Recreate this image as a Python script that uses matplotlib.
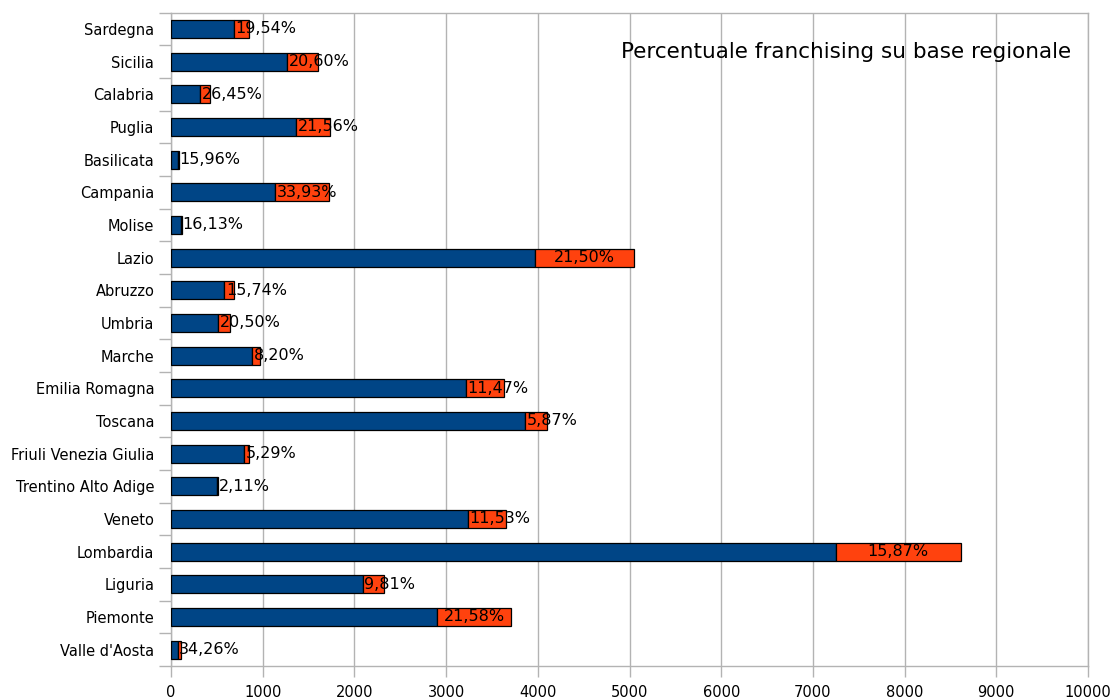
import numpy as np
import matplotlib
matplotlib.use("Agg")
import matplotlib.pyplot as plt

# regions from bottom to top, as in the chart
regioni = ["Valle d'Aosta", "Piemonte", "Liguria", "Lombardia", "Veneto",
           "Trentino Alto Adige", "Friuli Venezia Giulia", "Toscana",
           "Emilia Romagna", "Marche", "Umbria", "Abruzzo", "Lazio", "Molise",
           "Campania", "Basilicata", "Puglia", "Calabria", "Sicilia", "Sardegna"]
non_franchising = [72, 2905, 2092, 7248, 3234, 504, 800, 3860, 3214, 886,
                   513, 582, 3965, 105, 1137, 76, 1364, 316, 1270, 688]
franchising = [37, 800, 228, 1367, 421, 11, 45, 240, 416, 79,
               132, 108, 1085, 20, 583, 14, 375, 114, 330, 167]
percentuali = ["34,26%", "21,58%", "9,81%", "15,87%", "11,53%", "2,11%",
               "5,29%", "5,87%", "11,47%", "8,20%", "20,50%", "15,74%",
               "21,50%", "16,13%", "33,93%", "15,96%", "21,56%", "26,45%",
               "20,60%", "19,54%"]

blu = '#004586'
arancio = '#ff420e'
grigio = '#b3b3b3'

fig = plt.figure(figsize=(11.12, 6.99), dpi=100)
ax = fig.add_axes([0.1538, 0.0472, 0.8246, 0.9349])

y = np.arange(len(regioni))
h = 0.55
ax.barh(y, non_franchising, height=h, color=blu, edgecolor='black', linewidth=0.9, zorder=3)
ax.barh(y, franchising, left=non_franchising, height=h, color=arancio,
        edgecolor='black', linewidth=0.9, zorder=3)

ax.set_xlim(0, 10000)
ax.set_ylim(-0.5, len(regioni) - 0.5)
ax.set_xticks(np.arange(0, 10001, 1000))
ax.set_yticks(y)
ax.set_yticklabels(regioni)
ax.set_yticks(np.arange(-0.5, len(regioni)), minor=True)
ax.tick_params(axis='y', which='major', length=0, pad=12, labelsize=10.5)
ax.tick_params(axis='y', which='minor', length=9, color=grigio, width=1)
ax.tick_params(axis='x', length=8, color=grigio, width=1, labelsize=10.5, pad=6)
ax.grid(axis='x', color=grigio, linewidth=1, zorder=0)
for s in ax.spines.values():
    s.set_color(grigio)
    s.set_linewidth(1)

# percent labels: centred on the orange part if they fit, else start at it
fig.canvas.draw()
r = fig.canvas.get_renderer()
inv = ax.transData.inverted()
for yi, b, f, p in zip(y, non_franchising, franchising, percentuali):
    t = ax.text(b + f / 2, yi, p, ha='center', va='center', fontsize=11.5, zorder=4)
    bb = t.get_window_extent(renderer=r)
    x0 = inv.transform((bb.x0, 0))[0]
    if x0 < b:
        t.set_x(b + 15)
        t.set_ha('left')

ax.text(0.982, 0.94, "Percentuale franchising su base regionale",
        transform=ax.transAxes, ha='right', va='center', fontsize=15.5)

fig.savefig('out.png', dpi=100, facecolor='white')
